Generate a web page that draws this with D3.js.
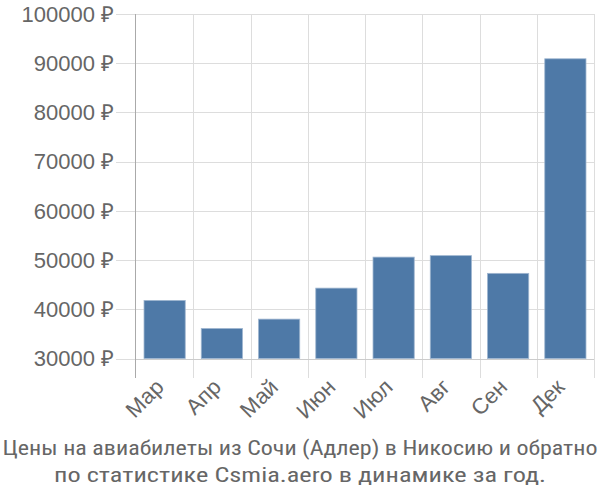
<!DOCTYPE html>
<html><head><meta charset="utf-8">
<script src="https://cdn.jsdelivr.net/npm/d3@7"></script>
<style>body{margin:0;background:#fff}svg{display:block}</style>
</head><body><svg id="c" width="600" height="500"></svg>
<script>
const categories = ["Мар","Апр","Май","Июн","Июл","Авг","Сен","Дек"];
const prices = [41800, 36100, 38000, 44300, 50600, 50900, 47300, 90900];
const yTicks = [30000,40000,50000,60000,70000,80000,90000,100000];
const titleLines = ["Цены на авиабилеты из Сочи (Адлер) в Никосию и обратно","по статистике Csmia.aero в динамике за год."];

const svg = d3.select("#c");
const L=136, R=594, T=14, B=358.5;
const x = d3.scaleBand().domain(categories).range([L,R]).paddingInner(0.28).paddingOuter(0.14);
const xb = d3.scaleBand().domain(categories).range([L,R]);
const y = d3.scaleLinear().domain([30000,100000]).range([B,T]);

// horizontal grid
svg.append("g").selectAll("line").data(yTicks).join("line")
  .attr("x1",116).attr("x2",R).attr("y1",d=>Math.round(y(d))+0.5).attr("y2",d=>Math.round(y(d))+0.5)
  .attr("stroke","#dddddd").attr("stroke-width",1);
// vertical grid
const bounds = categories.map(c=>xb(c)).concat([R]);
svg.append("g").selectAll("line").data(bounds.slice(1)).join("line")
  .attr("x1",d=>Math.round(d)+0.5).attr("x2",d=>Math.round(d)+0.5).attr("y1",T).attr("y2",378)
  .attr("stroke","#dddddd").attr("stroke-width",1);
// bottom axis line
svg.append("line").attr("x1",L).attr("x2",R).attr("y1",Math.round(B)+0.5).attr("y2",Math.round(B)+0.5).attr("stroke","#cccccc");
// left axis line
svg.append("line").attr("x1",L-0.5).attr("x2",L-0.5).attr("y1",T).attr("y2",378).attr("stroke","#aaaaaa");

// bars
svg.append("g").selectAll("rect").data(prices).join("rect")
  .attr("x",(d,i)=>x(categories[i])).attr("width",x.bandwidth())
  .attr("y",d=>y(d)).attr("height",d=>B-y(d))
  .attr("fill","#4e79a7").attr("stroke","#9fb6d0").attr("stroke-width",0.8);

// y labels
svg.append("g").selectAll("text").data(yTicks).join("text")
  .attr("x",114).attr("y",d=>y(d)).attr("dy","0.35em").attr("text-anchor","end")
  .attr("font-family","'Liberation Sans', Arial, sans-serif").attr("font-size",22).attr("fill","#666")
  .text(d=>d+" ₽");

// x labels
svg.append("g").selectAll("text").data(categories).join("text")
  .attr("transform",c=>`translate(${xb(c)+xb.bandwidth()/2-5},${383}) rotate(-45)`)
  .attr("text-anchor","end").attr("dy","0.35em")
  .attr("font-family","'Liberation Sans', Arial, sans-serif").attr("font-size",22).attr("fill","#666")
  .text(c=>c);

// title
const tl = [595, 492];
svg.append("g").selectAll("text").data(titleLines).join("text")
  .attr("x",300).attr("y",(d,i)=>455+i*27).attr("text-anchor","middle")
  .attr("textLength",(d,i)=>tl[i]).attr("lengthAdjust","spacingAndGlyphs")
  .attr("font-family","'Liberation Sans Narrow', 'Roboto Condensed', sans-serif").attr("font-size",21).attr("fill","#666")
  .text(d=>d);
</script></body></html>
